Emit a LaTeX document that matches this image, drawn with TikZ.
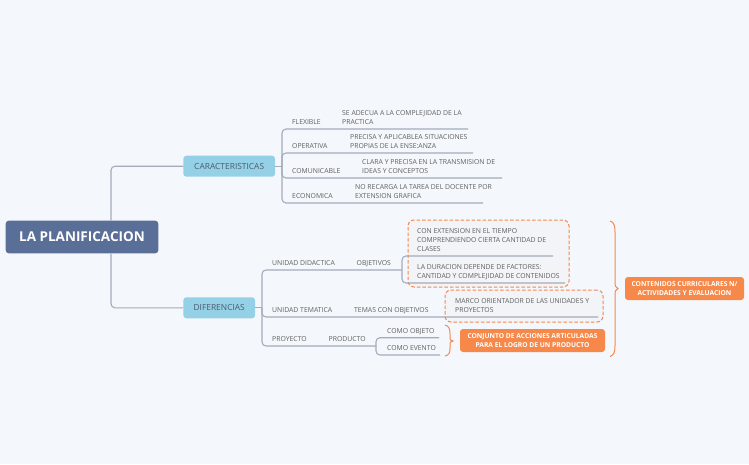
\documentclass[tikz,border=0pt]{standalone}
\usepackage{fontspec}
\setmainfont{Open Sans}
\definecolor{bgc}{HTML}{F4F8FC}
\definecolor{rootc}{HTML}{5A6F97}
\definecolor{lbluec}{HTML}{94D0E6}
\definecolor{orangec}{HTML}{F6884A}
\definecolor{linec}{HTML}{A4ABBA}
\definecolor{txtc}{HTML}{5E5E5E}
\definecolor{boxtxtc}{HTML}{4E5C6E}
\definecolor{dfillc}{HTML}{F3F4F7}
\tikzset{
  conn/.style={draw=linec, line width=1.1pt, rounded corners=4pt},
  lbl/.style={font=\fontsize{6.85}{9}\selectfont, text=txtc, inner sep=0pt, anchor=base west, align=left},
  rootbox/.style={fill=rootc, rounded corners=3pt, text=white, font=\fontsize{13.5}{15}\selectfont\bfseries, minimum width=152.6pt, minimum height=32.6pt, inner sep=0pt},
  bluebox/.style={fill=lbluec, rounded corners=3pt, text=boxtxtc, font=\fontsize{8.4}{10}\selectfont, minimum height=21pt, inner sep=0pt},
  orbox/.style={fill=orangec, rounded corners=3pt, text=white, font=\fontsize{6.7}{9}\selectfont\bfseries, align=center, inner sep=0pt, minimum height=23pt},
  dbox/.style={draw=orangec, fill=dfillc, dashed, dash pattern=on 3.5pt off 2pt, line width=1pt, rounded corners=6pt, inner sep=0pt},
  bracec/.style={draw=orangec, line width=1pt}
}
\begin{document}
\begin{tikzpicture}[x=1pt,y=-1pt]
\fill[bgc] (0,0) rectangle (749,464);
\useasboundingbox (0,0) rectangle (749,464);

% dashed boxes
\node[dbox, minimum width=161pt, minimum height=67pt] (dbA) at (488.5,253.5) {};
\node[dbox, minimum width=158pt, minimum height=32pt] (dbB) at (524,306) {};

% main nodes
\node[rootbox] (root) at (82,237) {LA PLANIFICACION};
\node[bluebox, minimum width=91.7pt] (car) at (229.2,166.2) {CARACTERISTICAS};
\node[bluebox, minimum width=71.7pt] (dif) at (219.2,307.8) {DIFERENCIAS};

% coordinates
\coordinate (cb) at (282,166.2);
\coordinate (c1) at (468,129);
\coordinate (c2) at (473,153);
\coordinate (c3) at (502,178);
\coordinate (c4) at (483,203);
\coordinate (db) at (262,307.8);
\coordinate (ob) at (402,270);
\coordinate (o1) at (553,256);
\coordinate (o2) at (565,283);
\coordinate (t1) at (598,317);
\coordinate (pb) at (376,346);
\coordinate (p1) at (439,337.7);
\coordinate (p2) at (440,355);

% connectors
\draw[conn] ([xshift=29pt]root.north) |- (car.west);
\draw[conn] ([xshift=29pt]root.south) |- (dif.west);
\draw[conn] (car.east) -- (cb);
\draw[conn] (cb) |- (c1);
\draw[conn] (cb) |- (c2);
\draw[conn] (cb) |- (c3);
\draw[conn] (cb) |- (c4);
\draw[conn] (dif.east) -- (db);
\draw[conn] (db) |- (ob);
\draw[conn] (ob) |- (o1);
\draw[conn] (ob) |- (o2);
\draw[conn] (db) |- (t1);
\draw[conn] (db) |- (pb);
\draw[conn] (pb) |- (p1);
\draw[conn] (pb) |- (p2);

% labels
\node[lbl] (flex) at (292,124.5) {FLEXIBLE};
\node[lbl] (flexd) at (342,124.5) {SE ADECUA A LA COMPLEJIDAD DE LA\\PRACTICA};
\node[lbl] (oper) at (292,148.5) {OPERATIVA};
\node[lbl] (operd) at (350,148.5) {PRECISA Y APLICABLEA SITUACIONES\\PROPIAS DE LA ENSE:ANZA};
\node[lbl] (comu) at (292,173.5) {COMUNICABLE};
\node[lbl] (comud) at (362,173.5) {CLARA Y PRECISA EN LA TRANSMISION DE\\IDEAS Y CONCEPTOS};
\node[lbl] (econ) at (292,198.5) {ECONOMICA};
\node[lbl] (econd) at (355,198.5) {NO RECARGA LA TAREA DEL DOCENTE POR\\EXTENSION GRAFICA};

\node[lbl] (ud) at (272,265.5) {UNIDAD DIDACTICA};
\node[lbl] (obj) at (356.5,265.5) {OBJETIVOS};
\node[lbl] (obj1) at (417,251.5) {CON EXTENSION EN EL TIEMPO\\COMPRENDIENDO CIERTA CANTIDAD DE\\CLASES};
\node[lbl] (obj2) at (417,278.5) {LA DURACION DEPENDE DE FACTORES:\\CANTIDAD Y COMPLEJIDAD DE CONTENIDOS};
\node[lbl] (ut) at (272,312.5) {UNIDAD TEMATICA};
\node[lbl] (tem) at (354,312.5) {TEMAS CON OBJETIVOS};
\node[lbl] (marco) at (455,312.5) {MARCO ORIENTADOR DE LAS UNIDADES Y\\PROYECTOS};
\node[lbl] (proy) at (272,341.5) {PROYECTO};
\node[lbl] (prod) at (328.5,341.5) {PRODUCTO};
\node[lbl] (cobj) at (387,333.2) {COMO OBJETO};
\node[lbl] (cev) at (387,350.5) {COMO EVENTO};

% braces
\draw[bracec] (445,325) .. controls (449,326) and (450,329) .. (450,334) -- (450,338) .. controls (450,340) .. (453,341) .. controls (450,342) .. (450,344) -- (450,348) .. controls (450,353) and (449,355) .. (445,356);
\draw[bracec] (610,221) .. controls (614,222) and (615,226) .. (615,232) -- (615,283) .. controls (615,286) .. (618,288.5) .. controls (615,291) .. (615,294) -- (615,346) .. controls (615,352) and (614,355) .. (610,356.5);

% orange boxes
\node[orbox, minimum width=145pt] (conj) at (532.5,340.5) {CONJUNTO DE ACCIONES ARTICULADAS\\PARA EL LOGRO DE UN PRODUCTO};
\node[orbox, minimum width=119pt] (cont) at (684.5,288.5) {CONTENIDOS CURRICULARES N/\\ACTIVIDADES Y EVALUACION};
\end{tikzpicture}
\end{document}
